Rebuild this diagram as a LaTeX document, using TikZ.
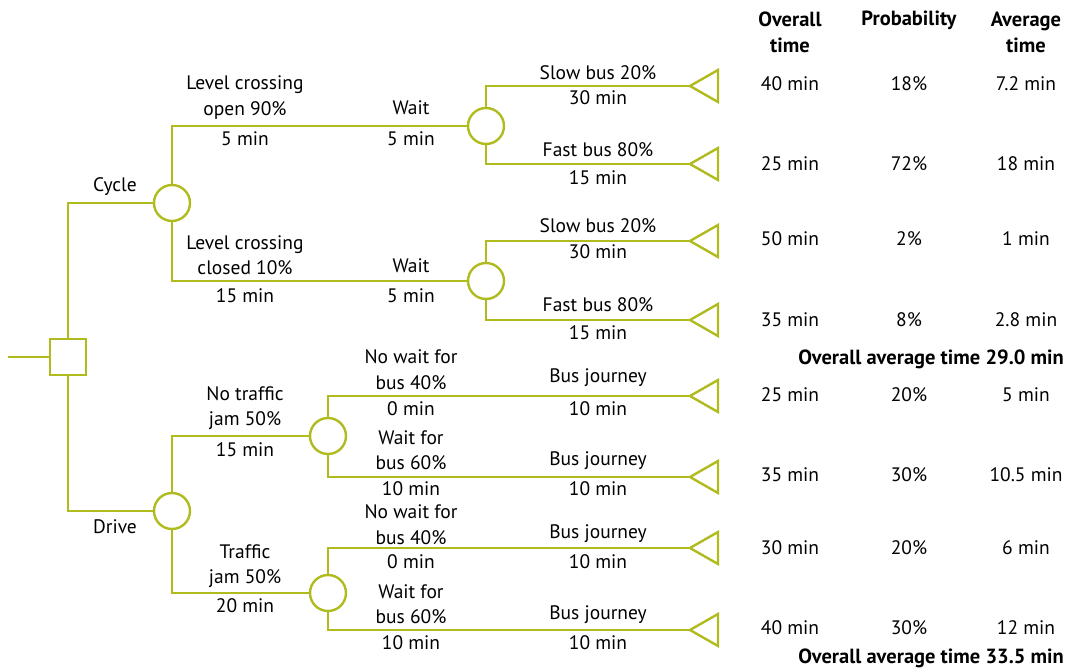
\documentclass[tikz,border=0pt]{standalone}
\usepackage{fontspec}
\setmainfont{PT Sans}
\usetikzlibrary{positioning}
\definecolor{trgreen}{HTML}{B0BB1E}

\newcommand\outcome[2]{%
  \coordinate (#1) at #2;
  \draw[branch] (#1) -- ++(28,-16) -- ++(0,32) -- cycle;}

\begin{document}
\begin{tikzpicture}[x=1pt,y=-1pt,
  branch/.style={trgreen,line width=2.4pt},
  chance/.style={circle,draw=trgreen,line width=2.4pt,minimum size=36pt,inner sep=0pt},
  choice/.style={rectangle,draw=trgreen,line width=2.4pt,minimum size=36pt,inner sep=0pt},
  lbl/.style={font=\fontsize{19.5}{25.5}\selectfont,align=center,inner sep=0pt},
  hdr/.style={font=\fontsize{20.5}{25.5}\selectfont\bfseries,align=center,inner sep=0pt}]

  \useasboundingbox (0,0) rectangle (1072,669);

  % --- decision and chance points ---
  \coordinate (start) at (8,357);
  \node[choice] (dec) at (68,357) {};
  \node[chance] (cyc) at (172,203) {};
  \node[chance] (drv) at (172,511) {};
  \node[chance] (open) at (486,126) {};
  \node[chance] (closed) at (486,281) {};
  \node[chance] (nojam) at (328,436) {};
  \node[chance] (jam) at (328,593) {};

  % --- end points ---
  \outcome{t1}{(690,86)}
  \outcome{t2}{(690,164)}
  \outcome{t3}{(690,241)}
  \outcome{t4}{(690,320)}
  \outcome{t5}{(690,396)}
  \outcome{t6}{(690,477)}
  \outcome{t7}{(690,548)}
  \outcome{t8}{(690,630)}

  % --- branches ---
  \draw[branch] (start) -- (dec);
  \draw[branch] (dec) |- (cyc);
  \draw[branch] (dec) |- (drv);
  \draw[branch] (cyc) |- (open);
  \draw[branch] (cyc) |- (closed);
  \draw[branch] (open) |- (t1);
  \draw[branch] (open) |- (t2);
  \draw[branch] (closed) |- (t3);
  \draw[branch] (closed) |- (t4);
  \draw[branch] (drv) |- (nojam);
  \draw[branch] (drv) |- (jam);
  \draw[branch] (nojam) |- (t5);
  \draw[branch] (nojam) |- (t6);
  \draw[branch] (jam) |- (t7);
  \draw[branch] (jam) |- (t8);

  % --- branch labels ---
  \node[lbl] (lcyc) at (115,187) {Cycle};
  \node[lbl] (ldrv) at (115,527) {Drive};

  \node[lbl] (lopen) at (245,97.5) {Level crossing\\open 90\%};
  \node[lbl] (topen) at (245,139) {5 min};
  \node[lbl] (lwait1) at (411,108) {Wait};
  \node[lbl] (twait1) at (411,139) {5 min};
  \node[lbl] (l1) at (598,73) {Slow bus 20\%};
  \node[lbl] (tl1) at (598,98) {30 min};
  \node[lbl] (l2) at (598,150) {Fast bus 80\%};
  \node[lbl] (tl2) at (598,178) {15 min};

  \node[lbl] (lclosed) at (245,255) {Level crossing\\closed 10\%};
  \node[lbl] (tclosed) at (245,296) {15 min};
  \node[lbl] (lwait2) at (411,266) {Wait};
  \node[lbl] (twait2) at (411,296) {5 min};
  \node[lbl] (l3) at (598,226) {Slow bus 20\%};
  \node[lbl] (tl3) at (598,252) {30 min};
  \node[lbl] (l4) at (598,305) {Fast bus 80\%};
  \node[lbl] (tl4) at (598,333) {15 min};

  \node[lbl] (lnojam) at (245,408) {No traffic\\jam 50\%};
  \node[lbl] (tnojam) at (245,450) {15 min};
  \node[lbl] (lnw1) at (411,369.5) {No wait for\\bus 40\%};
  \node[lbl] (tnw1) at (411,409) {0 min};
  \node[lbl] (lw1) at (411,450) {Wait for\\bus 60\%};
  \node[lbl] (tw1) at (411,489) {10 min};
  \node[lbl] (l5) at (598,378) {Bus journey};
  \node[lbl] (tl5) at (598,409) {10 min};
  \node[lbl] (l6) at (598,461) {Bus journey};
  \node[lbl] (tl6) at (598,489) {10 min};

  \node[lbl] (ljam) at (245,566) {Traffic\\jam 50\%};
  \node[lbl] (tjam) at (245,606) {20 min};
  \node[lbl] (lnw2) at (411,524.5) {No wait for\\bus 40\%};
  \node[lbl] (tnw2) at (411,562) {0 min};
  \node[lbl] (lw2) at (411,604) {Wait for\\bus 60\%};
  \node[lbl] (tw2) at (411,643) {10 min};
  \node[lbl] (l7) at (598,534) {Bus journey};
  \node[lbl] (tl7) at (598,562) {10 min};
  \node[lbl] (l8) at (598,615) {Bus journey};
  \node[lbl] (tl8) at (598,643) {10 min};

  % --- results table ---
  \node[hdr] (hover) at (790,32.5) {Overall\\time};
  \node[hdr] (hprob) at (909,20) {Probability};
  \node[hdr] (havg) at (1026,32.5) {Average\\time};

  \foreach \y/\tot/\pr/\av [count=\i] in {
      84/40/18/7.2, 164/25/72/18, 239/50/2/1, 320/35/8/2.8,
      395/25/20/5, 475/35/30/10.5, 548/30/20/6, 628/40/30/12} {
    \node[lbl] (tot\i) at (790,\y) {\tot{} min};
    \node[lbl] (pr\i) at (909,\y) {\pr\%};
    \node[lbl] (av\i) at (1026,\y) {\av{} min};
  }

  \node[hdr,anchor=base east] (sum1) at (1064,364) {Overall average time 29.0 min};
  \node[hdr,anchor=base east] (sum2) at (1064,663) {Overall average time 33.5 min};

\end{tikzpicture}
\end{document}
